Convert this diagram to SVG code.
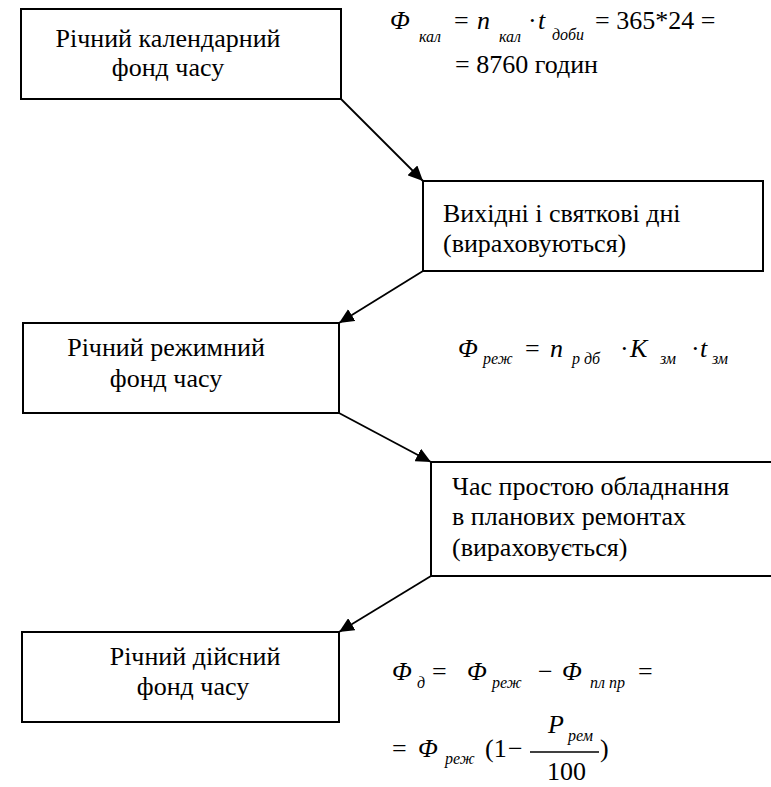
<svg xmlns="http://www.w3.org/2000/svg" width="771" height="787" viewBox="0 0 771 787">
<style>
.box{fill:#fff;stroke:#000;stroke-width:2}
text{font-family:'Liberation Serif','Times New Roman',serif;fill:#000}
.t{font-size:26px}
.m{font-size:26px}
.i{font-style:italic}
.s{font-size:16px;font-style:italic}
.r{font-size:26px}
.c{stroke:#000;stroke-width:1.8;fill:none;marker-end:url(#ah)}
</style>
<defs>
<marker id="ah" markerUnits="userSpaceOnUse" markerWidth="16" markerHeight="14" refX="15" refY="7" orient="auto">
<path d="M0,0 L15,7 L0,14 Z" fill="#000"/>
</marker>
</defs>
<g id="connectors">
<line class="c" x1="341" y1="99" x2="423" y2="181"/>
<line class="c" x1="423" y1="271" x2="339" y2="323"/>
<line class="c" x1="339" y1="413" x2="431" y2="462"/>
<line class="c" x1="431" y1="576" x2="339" y2="632"/>
</g>
<g id="n1">
<rect class="box" x="21" y="9" width="320" height="90"/>
<text class="t" x="168" y="47" text-anchor="middle">Річний календарний</text>
<text class="t" x="168" y="76" text-anchor="middle">фонд часу</text>
</g>
<g id="n2">
<rect class="box" x="423" y="181" width="340" height="90"/>
<text class="t" x="443" y="222">Вихідні і святкові дні</text>
<text class="t" x="443" y="252">(вираховуються)</text>
</g>
<g id="n3">
<rect class="box" x="23" y="323" width="316" height="90"/>
<text class="t" x="166" y="356" text-anchor="middle">Річний режимний</text>
<text class="t" x="166" y="387" text-anchor="middle">фонд часу</text>
</g>
<g id="n4">
<rect class="box" x="431" y="462" width="345" height="114"/>
<text class="t" x="452" y="495">Час простою обладнання</text>
<text class="t" x="452" y="525">в планових ремонтах</text>
<text class="t" x="452" y="556">(вираховується)</text>
</g>
<g id="n5">
<rect class="box" x="22" y="632" width="317" height="90"/>
<text class="t" x="195" y="665" text-anchor="middle">Річний дійсний</text>
<text class="t" x="193" y="695" text-anchor="middle">фонд часу</text>
</g>
<g id="f1">
<text class="m i" x="390" y="29">Φ</text>
<text class="s" x="419" y="42">кал</text>
<text class="m" x="454" y="29">=</text>
<text class="m i" x="477" y="29">n</text>
<text class="s" x="499" y="42">кал</text>
<text class="m" x="528" y="29">·</text>
<text class="m i" x="538" y="29">t</text>
<text class="s" x="552" y="40">доби</text>
<text class="r" x="595" y="29">= 365*24 =</text>
<text class="r" x="455" y="73">= 8760 годин</text>
</g>
<g id="f2">
<text class="m i" x="458" y="357">Φ</text>
<text class="s" x="483" y="364">реж</text>
<text class="m" x="525" y="357">=</text>
<text class="m i" x="550" y="357">n</text>
<text class="s" x="572" y="364">р дб</text>
<text class="m" x="620" y="357">·</text>
<text class="m i" x="630" y="357">K</text>
<text class="s" x="660" y="364">зм</text>
<text class="m" x="691" y="357">·</text>
<text class="m i" x="700" y="357">t</text>
<text class="s" x="712" y="364">зм</text>
</g>
<g id="f3">
<text class="m i" x="392" y="680">Φ</text>
<text class="s" x="417" y="688">д</text>
<text class="m" x="432" y="680">=</text>
<text class="m i" x="467" y="680">Φ</text>
<text class="s" x="492" y="688">реж</text>
<text class="m" x="538" y="680">−</text>
<text class="m i" x="562" y="680">Φ</text>
<text class="s" x="590" y="688">пл пр</text>
<text class="m" x="638" y="680">=</text>
<text class="m" x="392" y="757">=</text>
<text class="m i" x="418" y="757">Φ</text>
<text class="s" x="445" y="764">реж</text>
<text class="m" x="485" y="757">(1</text>
<text class="m" x="508" y="757">−</text>
<text class="m i" x="548" y="733">P</text>
<text class="s" x="568" y="741">рем</text>
<line x1="530" y1="752" x2="599" y2="752" stroke="#000" stroke-width="1.5"/>
<text class="m" x="547" y="780">100</text>
<text class="m" x="600" y="757">)</text>
</g>
</svg>
